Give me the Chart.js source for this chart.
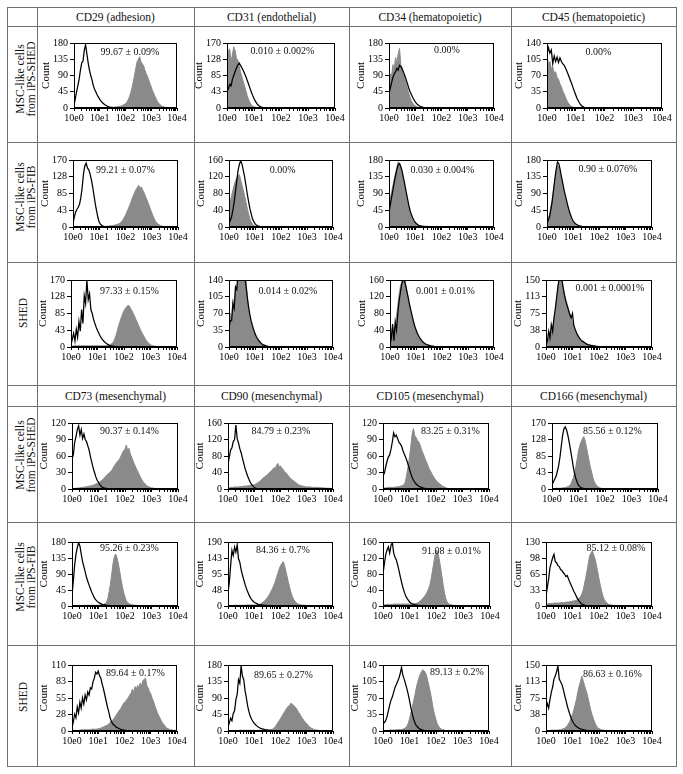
<!DOCTYPE html>
<html><head><meta charset="utf-8">
<script src="https://cdn.jsdelivr.net/npm/chart.js@4.4.1/dist/chart.umd.min.js"></script>
<style>
html,body{margin:0;padding:0;background:#fff;}
#page{position:relative;width:683px;height:774px;overflow:hidden;font-family:"Liberation Serif","Times New Roman","DejaVu Serif",serif;color:#111;}
.hl{position:absolute;height:1px;background:#707070;}
.vl{position:absolute;width:1px;background:#707070;}
.hdr{position:absolute;font-size:11.5px;line-height:14px;white-space:nowrap;transform:translate(-50%,-50%);}
.rowlab{position:absolute;font-size:11.5px;line-height:11px;text-align:center;white-space:nowrap;transform:translate(-50%,-50%) rotate(-90deg);}
.pct{position:absolute;font-size:10px;line-height:12px;white-space:nowrap;transform:translate(-50%,-50%);}
canvas{position:absolute;}
</style></head>
<body><div id="page"></div>
<script>
// ---------------- DATA ----------------
// Histogram counts per channel, channels spaced STEP decades apart starting at 10e0.
// "ctl" = black open histogram, "pos" = grey filled histogram.
const STEP = 0.05;

const HEADERS_TOP = ['CD29 (adhesion)','CD31 (endothelial)','CD34 (hematopoietic)','CD45 (hematopoietic)'];
const HEADERS_BOTTOM = ['CD73 (mesenchymal)','CD90 (mesenchymal)','CD105 (mesenchymal)','CD166 (mesenchymal)'];
const ROW_LABELS = [['MSC-like cells','from iPS-SHED'],['MSC-like cells','from iPS-FIB'],['SHED']];
const X_TICKS = [1,2,3,4,5,6,7,8,9,10,20,30,40,50,60,70,80,90,100,200,300,400,500,600,700,800,900,1000,2000,3000,4000,5000,6000,7000,8000,9000,10000];
const X_LABELS = {1:'10e0',10:'10e1',100:'10e2',1000:'10e3',10000:'10e4'};
const Y_MAX = [[180,170,180,140],[170,160,180,180],[170,140,160,150],[120,160,120,170],[180,190,160,130],[110,180,140,150]];
const PCT = [
 ['99.67 ± 0.09%','0.010 ± 0.002%','0.00%','0.00%'],
 ['99.21 ± 0.07%','0.00%','0.030 ± 0.004%','0.90 ± 0.076%'],
 ['97.33 ± 0.15%','0.014 ± 0.02%','0.001 ± 0.01%','0.001 ± 0.0001%'],
 ['90.37 ± 0.14%','84.79 ± 0.23%','83.25 ± 0.31%','85.56 ± 0.12%'],
 ['95.26 ± 0.23%','84.36 ± 0.7%','91.08 ± 0.01%','85.12 ± 0.08%'],
 ['89.64 ± 0.17%','89.65 ± 0.27%','89.13 ± 0.2%','86.63 ± 0.16%']
];

// Row 1: MSC-like cells from iPS-SHED
const ctl_CD29_iPSSHED = [8,25,45,62,80,105,125,130,160,175,150,125,105,90,78,62,52,44,36,30,24,19,15,12,9,7,5,3,2,2,1,1];
const pos_CD29_iPSSHED = [0,0,0,0,0,0,0,0,0,0,0,0,0,0,0,0,0,0,0,0,0,0,0,0,0,0,0,0,2,2,2,2,3,3,4,4,5,6,8,10,12,16,22,30,42,55,72,90,110,128,135,142,128,122,118,105,96,88,78,68,58,48,40,32,24,17,12,9,6,4,3,2,1];
const ctl_CD31_iPSSHED = [45,50,62,58,75,85,95,105,112,118,112,105,98,90,82,72,62,52,42,33,25,18,12,8,5,3,2,1];
const pos_CD31_iPSSHED = [120,150,155,120,140,160,150,130,125,110,95,82,70,58,45,32,22,14,8,5,3,2,1];
const ctl_CD34_iPSSHED = [40,55,70,85,95,100,110,105,118,115,108,100,90,80,68,56,46,38,30,23,17,12,9,6,4,3,2,1,1];
const pos_CD34_iPSSHED = [70,95,90,120,110,140,125,150,165,120,112,95,82,68,55,42,30,20,14,9,6,4,2,1,1];
const ctl_CD45_iPSSHED = [115,130,118,125,95,112,100,110,98,108,100,95,92,85,78,70,62,54,45,36,28,20,14,9,5,3,1];
const pos_CD45_iPSSHED = [115,95,100,85,88,76,78,66,62,52,46,36,30,22,15,10,6,3,2,1];

// Row 2: MSC-like cells from iPS-FIB
const ctl_CD29_iPSFIB = [10,25,38,45,50,58,75,100,135,155,162,150,145,135,120,102,80,58,40,24,12,7,4,2,1];
const pos_CD29_iPSFIB = [0,0,0,0,0,0,0,0,0,0,0,0,0,0,0,0,0,0,0,0,0,0,0,0,1,1,2,2,3,3,4,4,5,6,7,8,10,14,18,24,30,38,45,54,62,72,80,88,95,100,106,98,102,94,88,80,72,63,55,45,36,28,20,14,10,7,5,3,2,1,1];
const ctl_CD31_iPSFIB = [10,15,25,40,60,85,110,135,150,158,150,135,120,100,80,62,45,32,20,13,8,5,3,2,1];
const pos_CD31_iPSFIB = [50,62,75,88,100,110,118,122,125,112,100,88,75,60,45,32,20,12,7,4,2,1,1];
const ctl_CD34_iPSFIB = [40,60,80,100,120,138,155,168,170,162,150,132,115,96,78,60,45,34,25,18,12,9,6,4,3,2,2,1,1];
const pos_CD34_iPSFIB = [60,78,95,112,130,145,160,175,172,160,145,128,108,88,70,55,40,28,20,14,9,7,5,4,3,3,2,2,2,2,1,1,1,1,1,1,1];
const ctl_CD45_iPSFIB = [10,18,28,48,70,100,130,155,175,170,155,135,118,100,85,70,55,43,32,23,16,11,8,6,4,3,2,1,1];
const pos_CD45_iPSFIB = [15,25,35,55,75,100,125,148,165,162,150,130,112,95,78,63,50,38,28,20,13,10,7,5,4,3,2,2,1,1,1];

// Row 3: SHED
const ctl_CD29_SHED = [5,20,35,15,45,25,65,40,95,60,130,110,170,120,135,95,85,70,60,50,42,35,28,22,18,14,11,8,6,4,3,2,2,1,1];
const pos_CD29_SHED = [2,2,3,3,3,3,3,3,3,3,3,3,3,3,3,3,3,3,3,3,3,3,3,3,3,3,3,4,4,5,7,9,13,20,30,42,55,65,75,85,92,98,102,106,104,98,92,85,78,70,63,55,47,40,33,27,21,16,12,8,6,4,3,2,2,1,1];
const ctl_CD31_SHED = [40,55,55,90,80,125,120,155,170,175,175,165,150,130,105,85,68,55,45,36,28,22,17,13,10,7,5,4,3,2,1,1];
const pos_CD31_SHED = [40,70,55,100,80,130,120,160,170,175,180,165,155,140,110,80,62,50,40,32,26,20,15,12,9,7,5,4,3,2,2,1,1];
const ctl_CD34_SHED = [5,20,55,15,60,40,80,110,130,150,160,160,148,132,118,102,88,75,62,50,41,33,27,21,17,13,10,8,6,5,4,3,2,2,1];
const pos_CD34_SHED = [10,30,50,25,45,75,100,125,145,155,165,170,150,135,115,100,85,72,60,48,40,32,26,21,16,12,10,8,6,5,4,3,2,2,1,1,1];
const ctl_CD45_SHED = [5,12,35,20,50,35,65,85,110,135,155,160,150,132,115,102,92,82,72,65,75,48,40,32,26,21,17,14,12,10,8,6,5,4,3,3,2,2,1,1];
const pos_CD45_SHED = [5,10,20,35,30,45,60,80,105,130,155,160,150,132,118,105,95,85,75,65,55,45,38,31,26,21,17,14,12,10,8,7,6,5,4,4,3,3,2,2,1,1,1];

// Row 4: MSC-like cells from iPS-SHED (mesenchymal markers)
const ctl_CD73_iPSSHED = [55,62,85,95,108,115,98,108,92,100,90,86,78,70,58,48,38,30,22,16,12,8,5,3,2,1,1];
const pos_CD73_iPSSHED = [1,1,1,1,2,2,2,3,3,3,4,4,5,5,6,6,7,8,9,10,11,13,15,17,19,22,25,27,29,31,34,38,42,46,49,52,55,60,65,70,72,80,70,74,64,58,52,46,40,35,30,25,20,16,12,10,7,5,4,3,2,2,1,1,1];
const ctl_CD90_iPSSHED = [60,78,95,100,115,120,155,122,112,98,88,75,62,50,40,31,23,16,11,7,4,2,1];
const pos_CD90_iPSSHED = [3,3,4,4,4,5,5,5,5,6,6,6,7,7,7,8,8,9,9,10,10,12,14,16,18,21,24,27,30,32,35,38,41,44,47,52,49,58,62,54,56,50,48,42,40,36,32,28,25,22,20,17,15,12,10,9,8,7,6,6,5,5,5,5,4,4,4,4,4,4,3,3,3,3,2,2,2,2,1,1,1];
const ctl_CD105_iPSSHED = [25,28,40,50,58,62,72,85,102,95,98,92,85,82,78,70,64,58,52,44,36,28,21,16,12,9,7,5,4,3,2,1,1];
const pos_CD105_iPSSHED = [2,2,2,2,3,3,3,3,3,3,4,4,4,5,6,7,8,14,28,42,58,78,100,110,96,94,88,86,80,72,66,60,54,48,42,36,32,27,23,19,16,13,11,9,7,5,4,3,2,1,1];
const ctl_CD166_iPSSHED = [10,18,25,32,45,60,82,110,138,155,160,152,138,120,100,80,58,40,27,17,10,6,3,2,1,1];
const pos_CD166_iPSSHED = [1,1,1,2,2,2,2,2,3,3,4,5,6,8,12,20,28,40,58,78,98,112,122,130,135,124,108,90,72,56,42,28,18,12,8,5,3,2,1,1];

// Row 5: MSC-like cells from iPS-FIB (mesenchymal markers)
const ctl_CD73_iPSFIB = [30,70,115,145,165,178,168,145,125,110,95,80,68,58,48,38,30,22,17,13,10,8,6,4,3,3,2,2,1,1,1];
const pos_CD73_iPSFIB = [1,1,1,1,1,1,1,1,1,2,2,2,2,2,2,2,2,2,2,2,2,3,3,4,5,7,10,20,40,62,90,120,140,146,135,118,98,75,55,38,25,15,10,7,5,4,3,2,2,1,1];
const ctl_CD90_iPSFIB = [40,70,120,165,150,175,160,182,140,130,108,92,78,64,52,42,33,25,19,15,11,9,7,5,4,3,3,2,2,2,1,1,1];
const pos_CD90_iPSFIB = [1,1,1,1,1,2,2,2,2,2,2,2,2,2,3,3,3,3,3,3,3,3,4,4,5,7,9,12,16,20,25,31,37,45,53,62,72,85,98,110,120,126,132,122,105,88,70,55,40,28,20,14,10,7,5,4,3,3,2,2,2,1,1,1,1,1];
const ctl_CD105_iPSFIB = [80,105,128,140,148,132,152,158,132,122,115,102,88,72,58,45,34,25,19,14,10,7,5,4,3,2,2,1,1];
const pos_CD105_iPSFIB = [3,3,3,4,4,4,4,4,5,5,5,5,5,5,5,5,5,5,5,5,5,5,6,6,6,7,8,10,13,16,20,24,29,35,42,52,68,88,108,128,140,134,118,98,75,52,32,18,10,6,4,3,2,2,1,1,1];
const ctl_CD166_iPSFIB = [20,38,55,78,88,98,105,90,88,82,80,74,72,68,65,60,62,55,48,42,36,30,25,19,14,10,7,4,3,2,1];
const pos_CD166_iPSFIB = [4,4,5,5,5,5,6,6,6,6,6,7,7,7,7,8,8,8,9,9,10,10,11,12,14,16,19,24,32,44,58,72,88,102,108,112,104,96,84,70,55,42,30,20,13,9,6,4,3,2,2,1,1];

// Row 6: SHED (mesenchymal markers)
const ctl_CD73_SHED = [5,15,28,22,40,30,48,38,55,45,60,52,65,60,72,70,82,88,98,95,100,92,88,78,70,60,50,40,32,22,16,12,10,8,6,5,4,3,2,2,1,1];
const pos_CD73_SHED = [1,1,1,1,1,1,1,2,2,2,2,2,2,2,2,3,3,3,3,3,4,4,5,6,7,8,9,10,12,14,16,18,21,24,28,31,34,37,41,45,48,50,53,56,60,63,70,64,74,70,76,72,80,75,84,86,88,76,72,66,62,55,50,43,37,31,26,22,17,13,11,8,5,4,3,2,2,1,1];
const ctl_CD90_SHED = [10,22,35,28,48,55,85,100,140,130,178,150,140,110,90,68,52,40,32,26,21,17,14,11,9,7,6,5,4,3,3,2,2,2,1,1,1];
const pos_CD90_SHED = [1,1,1,1,1,1,1,1,1,2,2,2,2,2,2,2,2,2,2,2,2,2,2,2,2,2,2,2,2,2,2,2,3,4,5,8,12,17,23,28,34,40,46,52,58,63,68,70,76,73,70,66,62,56,50,44,38,33,28,24,20,15,12,9,7,5,4,3,2,2,1];
const ctl_CD105_SHED = [15,18,22,30,42,55,65,72,82,92,98,105,112,122,135,118,110,100,90,78,65,50,38,26,18,12,9,6,4,3,2,1,1];
const pos_CD105_SHED = [1,1,1,1,1,2,2,2,2,2,2,3,3,3,3,4,5,7,10,16,26,38,50,62,75,90,102,112,120,125,130,128,124,116,104,92,78,62,46,34,24,15,10,6,4,3,2,1,1];
const ctl_CD166_SHED = [50,62,52,72,88,100,118,125,135,148,118,112,106,95,82,70,58,47,38,29,22,17,13,10,8,6,5,4,3,2,2,1,1];
const pos_CD166_SHED = [1,1,1,1,2,2,2,2,2,2,3,3,4,5,6,9,12,17,22,30,38,48,60,72,88,102,112,125,115,104,95,84,72,58,45,35,26,18,12,8,5,4,3,2,2,1,1];

const SERIES = [
 [[ctl_CD29_iPSSHED,pos_CD29_iPSSHED],[ctl_CD31_iPSSHED,pos_CD31_iPSSHED],[ctl_CD34_iPSSHED,pos_CD34_iPSSHED],[ctl_CD45_iPSSHED,pos_CD45_iPSSHED]],
 [[ctl_CD29_iPSFIB,pos_CD29_iPSFIB],[ctl_CD31_iPSFIB,pos_CD31_iPSFIB],[ctl_CD34_iPSFIB,pos_CD34_iPSFIB],[ctl_CD45_iPSFIB,pos_CD45_iPSFIB]],
 [[ctl_CD29_SHED,pos_CD29_SHED],[ctl_CD31_SHED,pos_CD31_SHED],[ctl_CD34_SHED,pos_CD34_SHED],[ctl_CD45_SHED,pos_CD45_SHED]],
 [[ctl_CD73_iPSSHED,pos_CD73_iPSSHED],[ctl_CD90_iPSSHED,pos_CD90_iPSSHED],[ctl_CD105_iPSSHED,pos_CD105_iPSSHED],[ctl_CD166_iPSSHED,pos_CD166_iPSSHED]],
 [[ctl_CD73_iPSFIB,pos_CD73_iPSFIB],[ctl_CD90_iPSFIB,pos_CD90_iPSFIB],[ctl_CD105_iPSFIB,pos_CD105_iPSFIB],[ctl_CD166_iPSFIB,pos_CD166_iPSFIB]],
 [[ctl_CD73_SHED,pos_CD73_SHED],[ctl_CD90_SHED,pos_CD90_SHED],[ctl_CD105_SHED,pos_CD105_SHED],[ctl_CD166_SHED,pos_CD166_SHED]]
];

// ---------------- LAYOUT ----------------
const TABLE_X = [7,37,194,349,511,676];
const TABLE_Y = [7,26,142,262,385,406,522,645,766];
const BOX_LR = [
 [[74,177],[227,335],[389,494],[547,662]],
 [[73,178],[229,333],[389,494],[547,652]],
 [[71,177],[229,333],[390,494],[546,652]],
 [[72,178],[228,333],[383,489],[552,658]],
 [[72,178],[228,333],[383,490],[546,652]],
 [[72,177],[228,333],[383,489],[546,652]]
];
const BOX_TB = [[43,108],[160,227],[280,347],[423,489],[542,606],[665,731]];
const PCT_POS = [
 [[130,52],[282.5,51],[447,49.5],[598.5,51.5]],
 [[125.5,170],[282.7,170],[442.5,170],[608,168.5]],
 [[129.5,291],[288,290.5],[445.5,290.5],[610,288]],
 [[129.5,431],[281,430.5],[450.5,430.5],[612.5,430.5]],
 [[129.5,548],[283,550],[451.5,551],[616,548]],
 [[135.5,673],[283.5,674.5],[457,672],[612.5,674]]
];
const ROW_LAB_POS = [[25.5,79],[25.5,197],[22.5,313],[25.5,455],[25.5,577],[22.5,697]];
const HDR_Y = [17,396];
const PAD_L = 34, PAD_T = 8, PAD_R = 15, PAD_B = 20;
const SERIF = '"Liberation Serif","Times New Roman","DejaVu Serif",serif';

const page = document.getElementById('page');
function el(cls, css, text){ const d=document.createElement('div'); d.className=cls; Object.assign(d.style,css); if(text!==undefined) d.textContent=text; page.appendChild(d); return d; }

Chart.defaults.font.family = SERIF;
Chart.defaults.color = '#111';

const framePlugin = {
  id:'frame',
  afterDraw(chart){
    const {ctx, chartArea:a} = chart;
    ctx.save();
    ctx.strokeStyle = '#000'; ctx.lineWidth = 1;
    const l = Math.round(a.left)+0.5, t = Math.round(a.top)+0.5, r = Math.round(a.right)-0.5, b = Math.round(a.bottom)-0.5;
    ctx.strokeRect(l, t, r-l, b-t);
    ctx.restore();
  }
};

function toPoints(arr){
  const pts = arr.map((v,i)=>({x: Math.pow(10, i*STEP), y: v}));
  pts.push({x: Math.pow(10, arr.length*STEP), y: 0});
  return pts;
}

SERIES.forEach((row, r) => {
  row.forEach((pair, c) => {
    const [bl, br] = BOX_LR[r][c];
    const [bt, bb] = BOX_TB[r];
    const cv = document.createElement('canvas');
    const w = (br-bl) + PAD_L + PAD_R, h = (bb-bt) + PAD_T + PAD_B;
    cv.width = w; cv.height = h;
    cv.style.left = (bl-PAD_L)+'px'; cv.style.top = (bt-PAD_T)+'px';
    cv.style.width = w+'px'; cv.style.height = h+'px';
    page.appendChild(cv);
    const ymax = Y_MAX[r][c];
    new Chart(cv, {
      type:'line',
      data:{datasets:[
        {data: toPoints(pair[0]), borderColor:'#000', borderWidth:1.25, pointRadius:0, fill:false, tension:0},
        {data: toPoints(pair[1]), borderColor:'#8a8a8a', backgroundColor:'#8a8a8a', borderWidth:1, pointRadius:0, fill:'origin', tension:0}
      ]},
      options:{
        responsive:false, animation:false, devicePixelRatio:1, events:[],
        layout:{padding:{left:0, top:PAD_T, right:PAD_R, bottom:0}},
        plugins:{legend:{display:false}, tooltip:{enabled:false}},
        scales:{
          x:{
            type:'logarithmic', min:1, max:10000,
            afterBuildTicks(s){ s.ticks = X_TICKS.map(v=>({value:v, major: X_LABELS[v]!==undefined})); },
            afterFit(s){ s.height = PAD_B; },
            ticks:{autoSkip:false, maxRotation:0, minRotation:0, padding:1, color:'#000', font:{size:10, family:SERIF},
                   callback(v){ return X_LABELS[v] || ''; }},
            grid:{drawOnChartArea:false, drawTicks:true, tickLength:3, color:'#000', lineWidth:1},
            border:{display:true, color:'#000', width:1}
          },
          y:{
            min:0, max:ymax,
            afterBuildTicks(s){ s.ticks = [0,1,2,3,4].map(k=>({value: ymax*k/4})); },
            afterFit(s){ s.width = PAD_L; },
            ticks:{padding:2, color:'#000', font:{size:10, family:SERIF}, callback(v){ return String(Math.round(v)); }},
            title:{display:true, text:'Count', padding:0, color:'#000', font:{size:11, family:SERIF}},
            grid:{drawOnChartArea:false, drawTicks:true, tickLength:4, color:'#000', lineWidth:1},
            border:{display:true, color:'#000', width:1}
          }
        }
      },
      plugins:[framePlugin]
    });
  });
});

// table rules
TABLE_Y.forEach(y => el('hl', {left:TABLE_X[0]+'px', top:y+'px', width:(TABLE_X[TABLE_X.length-1]-TABLE_X[0]+1)+'px'}));
TABLE_X.forEach(x => el('vl', {left:x+'px', top:TABLE_Y[0]+'px', height:(TABLE_Y[TABLE_Y.length-1]-TABLE_Y[0]+1)+'px'}));

// headers
[HEADERS_TOP, HEADERS_BOTTOM].forEach((hs, k) => {
  hs.forEach((t, c) => {
    const cx = (TABLE_X[c+1] + TABLE_X[c+2]) / 2;
    el('hdr', {left:cx+'px', top:HDR_Y[k]+'px'}, t);
  });
});

// row labels
ROW_LAB_POS.forEach((p, r) => {
  const lines = ROW_LABELS[r % 3];
  const d = el('rowlab', {left:p[0]+'px', top:p[1]+'px'});
  d.innerHTML = lines.map(s => s.replace(/&/g,'&amp;')).join('<br>');
});

// percentage annotations
PCT.forEach((row, r) => row.forEach((t, c) => {
  el('pct', {left:PCT_POS[r][c][0]+'px', top:PCT_POS[r][c][1]+'px'}, t);
}));
</script>
</body></html>
